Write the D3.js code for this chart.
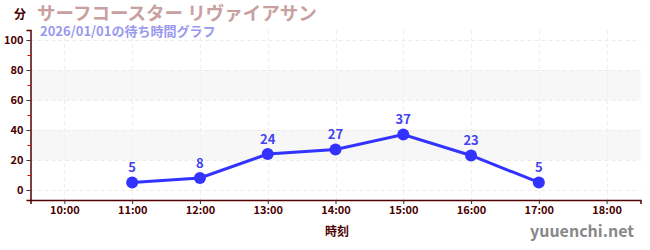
<!DOCTYPE html>
<html>
<head>
<meta charset="utf-8">
<script src="https://cdn.jsdelivr.net/npm/d3@7"></script>
<style>
  body { margin: 0; background: #fff; }
  text { font-family: "Noto Sans CJK JP", "Noto Sans", sans-serif; }
</style>
</head>
<body>
<div id="chart"></div>
<script>
// wait times for the day
var hours = [11, 12, 13, 14, 15, 16, 17];
var waits = [5, 8, 24, 27, 37, 23, 5];
var xTicks = [10, 11, 12, 13, 14, 15, 16, 17, 18];
var yTicks = [0, 20, 40, 60, 80, 100];
var yMinor = [10, 30, 50, 70, 90];
var bands = [[20, 40], [60, 80]];

var title = "サーフコースター リヴァイアサン";
var subtitle = "2026/01/01の待ち時間グラフ";

var W = 650, H = 250;
// plot box (note: "top" is taken by window.top)
var padL = 30.5, padR = 640.5, padT = 30, padB = 200;

var svg = d3.select("#chart").append("svg")
	.attr("width", W)
	.attr("height", H);

var x = d3.scaleLinear().domain([9.5, 18.5]).range([padL, padR]);
var y = d3.scaleLinear().domain([-6.7, 106.7]).range([padB, padT]);

// grey bands
svg.selectAll(".band")
	.data(bands)
	.enter().append("rect")
	.attr("x", padL)
	.attr("width", padR - padL)
	.attr("y", function(d) { return y(d[1]); })
	.attr("height", function(d) { return y(d[0]) - y(d[1]); })
	.style("fill", "#f7f7f7");

// dashed grid
svg.selectAll(".hgrid")
	.data(yTicks)
	.enter().append("line")
	.attr("x1", padL).attr("x2", padR)
	.attr("y1", function(d) { return Math.round(y(d)) + 0.5; })
	.attr("y2", function(d) { return Math.round(y(d)) + 0.5; })
	.style("stroke", "#ebebeb")
	.style("stroke-dasharray", "4,3");

svg.selectAll(".vgrid")
	.data(xTicks)
	.enter().append("line")
	.attr("y1", padT).attr("y2", padB)
	.attr("x1", function(d) { return Math.round(x(d)) + 0.5; })
	.attr("x2", function(d) { return Math.round(x(d)) + 0.5; })
	.style("stroke", "#efefef")
	.style("stroke-dasharray", "4,3");

var axisColor = "#550000";

// y axis
var yAxis = svg.append("g")
	.attr("transform", "translate(" + padL + ",0)")
	.call(d3.axisLeft(y).tickValues(yTicks).tickSize(4).tickPadding(3));
yAxis.selectAll("text")
	.style("font-size", "11px")
	.style("font-weight", "bold")
	.style("fill", "#4a0000");

svg.selectAll(".minor")
	.data(yMinor)
	.enter().append("line")
	.attr("x1", padL - 3).attr("x2", padL)
	.attr("y1", function(d) { return Math.round(y(d)) + 0.5; })
	.attr("y2", function(d) { return Math.round(y(d)) + 0.5; })
	.style("stroke", "#dd0000");

// x axis
var xAxis = svg.append("g")
	.attr("transform", "translate(0," + padB + ")")
	.call(d3.axisBottom(x).tickValues(xTicks).tickSize(4).tickPadding(2)
		.tickFormat(function(d) { return d + ":00"; }));
xAxis.selectAll("text")
	.style("font-size", "11px")
	.style("font-weight", "bold")
	.style("fill", "#4a0000");

[yAxis, xAxis].forEach(function(a) {
	a.select(".domain").style("stroke", axisColor).style("stroke-width", 1.5);
	a.selectAll(".tick line").style("stroke", "#333");
});

// series line
var pts = hours.map(function(h, i) { return {h: h, v: waits[i]}; });

svg.append("path")
	.datum(pts)
	.attr("d", d3.line()
		.x(function(d) { return x(d.h); })
		.y(function(d) { return y(d.v); }))
	.style("fill", "none")
	.style("stroke", "#3333ff")
	.style("stroke-width", 3);

svg.selectAll(".dot")
	.data(pts)
	.enter().append("circle")
	.attr("cx", function(d) { return x(d.h); })
	.attr("cy", function(d) { return y(d.v); })
	.attr("r", 6)
	.style("fill", "#3333ff");

svg.selectAll(".lbl")
	.data(pts)
	.enter().append("text")
	.attr("x", function(d) { return x(d.h); })
	.attr("y", function(d) { return y(d.v) - 10; })
	.attr("text-anchor", "middle")
	.style("font-size", "13px")
	.style("font-weight", "bold")
	.style("fill", "#4444ee")
	.text(function(d) { return d.v; });

// titles and labels
svg.append("text")
	.attr("x", 37).attr("y", 20)
	.style("font-size", "18.5px")
	.style("font-weight", "bold")
	.style("fill", "#c8a0a0")
	.text(title);

svg.append("text")
	.attr("x", 40).attr("y", 36)
	.style("font-size", "13px")
	.style("font-weight", "bold")
	.style("fill", "#9999ee")
	.text(subtitle);

svg.append("text")
	.attr("x", 14).attr("y", 19)
	.style("font-size", "12px")
	.style("font-weight", "bold")
	.style("fill", "#4a0000")
	.text("分");

svg.append("text")
	.attr("x", 337).attr("y", 236)
	.attr("text-anchor", "middle")
	.style("font-size", "12px")
	.style("font-weight", "bold")
	.style("fill", "#4a0000")
	.text("時刻");

svg.append("text")
	.attr("x", 634).attr("y", 237)
	.attr("text-anchor", "end")
	.style("font-size", "16px")
	.style("font-weight", "bold")
	.style("fill", "#888")
	.text("yuuenchi.net");
</script>
</body>
</html>
